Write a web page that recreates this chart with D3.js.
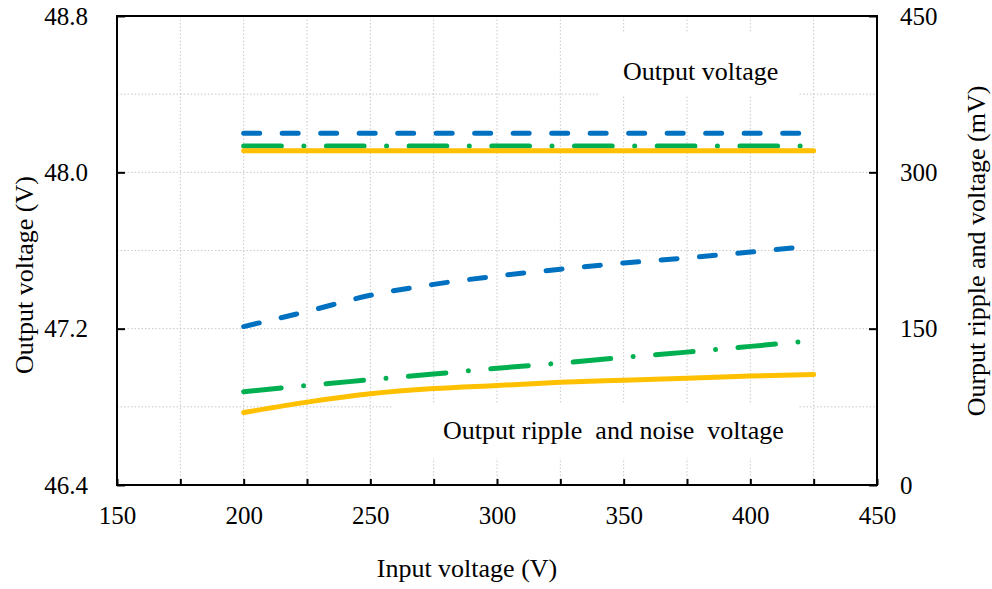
<!DOCTYPE html>
<html>
<head>
<meta charset="utf-8">
<script src="https://cdn.jsdelivr.net/npm/d3@7"></script>
<style>
  html, body { margin: 0; padding: 0; background: #fff; }
  text { font-family: "Liberation Serif", "Times New Roman", serif; fill: #000; }
</style>
</head>
<body>
<svg id="chart" width="992" height="589"></svg>
<script>
// ---- data ----
const inputV = [200, 225, 250, 275, 300, 325, 350, 375, 400, 425];
const voutBlue   = [48.20, 48.20, 48.20, 48.20, 48.20, 48.20, 48.20, 48.20, 48.20, 48.20];
const voutGreen  = [48.135, 48.135, 48.135, 48.135, 48.135, 48.135, 48.135, 48.135, 48.135, 48.135];
const voutYellow = [48.11, 48.11, 48.11, 48.11, 48.11, 48.11, 48.11, 48.11, 48.11, 48.11];
const rippleBlue   = [152, 166.5, 182, 192.5, 200.5, 207, 213, 218, 223.5, 229.5];
const rippleGreen  = [89.5, 95.5, 101, 106.5, 112, 117, 122.5, 127.5, 133, 138.5];
const rippleYellow = [69.5, 79.5, 87.5, 92.5, 95.5, 98.5, 100.5, 102.5, 104.5, 106];
const xTickLabels = [150, 200, 250, 300, 350, 400, 450];
const xMinorTicks = [150, 175, 200, 225, 250, 275, 300, 325, 350, 375, 400, 425, 450];
const yLeftTicks = [46.4, 47.2, 48.0, 48.8];
const yLeftGrid = [46.8, 47.2, 47.6, 48.0, 48.4];
const yRightTicks = [0, 150, 300, 450];
const xTitle = "Input voltage (V)";
const yLeftTitle = "Output voltage (V)";
const yRightTitle = "Ourput ripple and voltage (mV)";
const noteTop = "Output voltage";
const noteBottom = "Output ripple\u00a0 and noise\u00a0 voltage";

// ---- layout ----
const L = 117, R = 877, T = 16, B = 485;
const svg = d3.select("#chart");
const x = d3.scaleLinear().domain([150, 450]).range([L, R]);
const yL = d3.scaleLinear().domain([46.4, 48.8]).range([B, T]);
const yR = d3.scaleLinear().domain([0, 450]).range([B, T]);

const colors = { blue: "#0070C0", green: "#00B050", yellow: "#FFC000" };

// grid
const grid = svg.append("g").attr("stroke", "#c8c8c8").attr("stroke-width", 1)
  .attr("stroke-dasharray", "1.5,2");
grid.selectAll("line.v").data(xMinorTicks.filter(d => d > 150 && d < 450)).join("line")
  .attr("x1", d => x(d)).attr("x2", d => x(d)).attr("y1", T).attr("y2", B);
grid.selectAll("line.h").data(yLeftGrid).join("line")
  .attr("x1", L).attr("x2", R).attr("y1", d => yL(d)).attr("y2", d => yL(d));

// white text boxes covering grid
svg.append("rect").attr("x", 598).attr("y", 33).attr("width", 200).attr("height", 63).attr("fill", "#fff");
svg.append("rect").attr("x", 392).attr("y", 404).attr("width", 406).attr("height", 54).attr("fill", "#fff");

// series
function drawLine(vals, yScale, color, dash) {
  const data = inputV.map((v, i) => [v, vals[i]]);
  const line = d3.line().x(d => x(d[0])).y(d => yScale(d[1])).curve(d3.curveMonotoneX);
  svg.append("path").datum(data).attr("d", line)
    .attr("fill", "none").attr("stroke", color).attr("stroke-width", 5)
    .attr("stroke-linecap", "round").attr("stroke-linejoin", "round")
    .attr("stroke-dasharray", dash || null);
}
const dashBlue = "16,22.5";
const dashGreen = "37.7,22.5,0.01,22.5";
drawLine(voutBlue, yL, colors.blue, dashBlue);
drawLine(voutGreen, yL, colors.green, dashGreen);
drawLine(voutYellow, yL, colors.yellow, null);
drawLine(rippleBlue, yR, colors.blue, dashBlue);
drawLine(rippleGreen, yR, colors.green, dashGreen);
drawLine(rippleYellow, yR, colors.yellow, null);

// axes
const fontSize = 25;
const axL = svg.append("g").attr("transform", `translate(${L},0)`)
  .call(d3.axisLeft(yL).tickValues(yLeftTicks).tickFormat(d3.format(".1f"))
    .tickSizeInner(-8).tickSizeOuter(0).tickPadding(29));
const axR = svg.append("g").attr("transform", `translate(${R},0)`)
  .call(d3.axisRight(yR).tickValues(yRightTicks).tickFormat(d3.format("d"))
    .tickSizeInner(-8).tickSizeOuter(0).tickPadding(23));
const axB = svg.append("g").attr("transform", `translate(0,${B})`)
  .call(d3.axisBottom(x).tickValues(xMinorTicks)
    .tickFormat(d => xTickLabels.includes(d) ? d : "")
    .tickSizeInner(-6).tickSizeOuter(0).tickPadding(21));
[axL, axR, axB].forEach(a => {
  a.select(".domain").remove();
  a.selectAll(".tick line").attr("stroke", "#000").attr("stroke-width", 2);
  a.selectAll(".tick text").attr("font-size", fontSize)
    .attr("font-family", '"Liberation Serif", "Times New Roman", serif').attr("fill", "#000");
});

// frame
svg.append("rect").attr("x", L).attr("y", T).attr("width", R - L).attr("height", B - T)
  .attr("fill", "none").attr("stroke", "#000").attr("stroke-width", 2);

// titles
const titleSize = 26;
svg.append("text").attr("x", 467).attr("y", 577).attr("text-anchor", "middle")
  .attr("font-size", titleSize).text(xTitle);
svg.append("text").attr("transform", "translate(33,275) rotate(-90)").attr("text-anchor", "middle")
  .attr("font-size", titleSize).text(yLeftTitle);
svg.append("text").attr("transform", "translate(985,251) rotate(-90)").attr("text-anchor", "middle")
  .attr("font-size", titleSize).text(yRightTitle);

// annotations
svg.append("text").attr("x", 623).attr("y", 80).attr("font-size", titleSize).text(noteTop);
svg.append("text").attr("x", 443).attr("y", 439).attr("font-size", titleSize).text(noteBottom);
</script>
</body>
</html>
